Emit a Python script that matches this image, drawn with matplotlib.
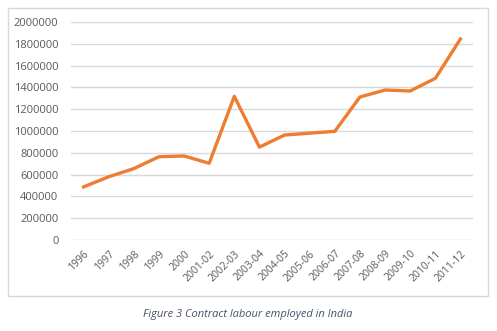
import matplotlib.pyplot as plt
from matplotlib.patches import Rectangle

years = ["1996", "1997", "1998", "1999", "2000", "2001-02", "2002-03", "2003-04",
         "2004-05", "2005-06", "2006-07", "2007-08", "2008-09", "2009-10",
         "2010-11", "2011-12"]
workers = [487000, 580000, 655000, 764000, 771000, 704000, 1318000, 852000,
           963000, 980000, 997000, 1312000, 1376000, 1367000, 1483000, 1844000]
yticks = list(range(0, 2000001, 200000))

plt.rcParams['font.family'] = ['Open Sans', 'DejaVu Sans']

W, H = 497, 331
fig = plt.figure(figsize=(W / 100, H / 100), dpi=100)
fig.patch.set_facecolor("white")

# chart frame
fig.patches.append(Rectangle((8 / W, 1 - 296 / H), 480 / W, 288 / H,
                             transform=fig.transFigure, fill=False,
                             edgecolor="#D9D9D9", linewidth=1))

ax = fig.add_axes([71 / W, 1 - 240 / H, 402 / W, 218 / H])
x = range(len(years))
ax.plot(x, workers, color="#ED7D31", linewidth=2.4, solid_joinstyle="round")

ax.set_xlim(-0.5, len(years) - 0.5)
ax.set_ylim(0, 2000000)
ax.set_yticks(yticks)
ax.set_yticklabels([str(v) for v in yticks])
ax.yaxis.grid(True, color="#D9D9D9", linewidth=1)
ax.set_axisbelow(True)
for s in ax.spines.values():
    s.set_visible(False)
ax.tick_params(length=0, labelsize=7.5, labelcolor="#595959")
ax.tick_params(axis="y", pad=9, labelsize=8)
ax.set_xticks(list(x))
ax.set_xticklabels(years, rotation=45, ha="right", rotation_mode="anchor")
ax.tick_params(axis="x", pad=6)

fig.text(248 / W, 1 - 315 / H, "Figure 3 Contract labour employed in India",
         ha="center", va="center", fontsize=8, style="italic", color="#44546A")

fig.savefig("out.png", dpi=100)
